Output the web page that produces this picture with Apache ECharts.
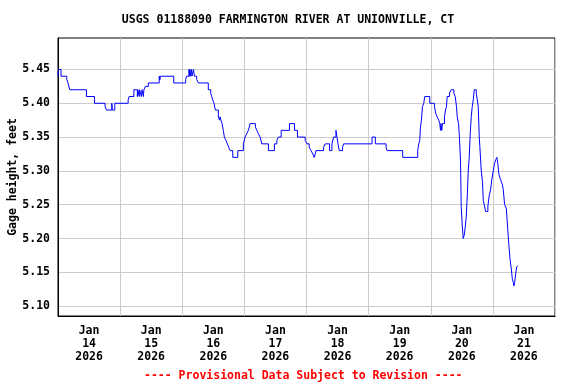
<!DOCTYPE html>
<html>
<head>
<meta charset="utf-8">
<script src="https://cdn.jsdelivr.net/npm/echarts@6/dist/echarts.min.js"></script>
<style>
html,body{margin:0;padding:0;background:#fff;}
#chart{width:576px;height:384px;}
</style>
</head>
<body>
<div id="chart"></div>
<script>
// Hours since Jan 14 2026 00:00 at which the gage reading changes
const hours = [0,0.15,1.16,3.37,3.87,4.53,10.99,14.09,18.19,18.74,20.79,20.98,21.95,27.10,27.48,29.30,30.66,30.85,31.36,31.55,32.21,32.48,32.98,33.18,33.76,34.92,39.10,39.37,39.56,44.71,49.32,49.63,50.59,50.79,50.98,51.17,51.56,51.76,52.34,52.72,53.58,54.27,58.06,58.99,59.38,59.77,60.27,60.78,61.94,62.40,62.60,62.98,63.37,63.87,64.26,64.92,65.42,65.96,66.47,67.51,69.45,71.61,72.27,72.93,73.55,74.21,76.26,76.80,77.42,78.08,78.74,81.29,83.61,84.54,85.16,86.21,89.42,91.36,92.52,95.50,96.16,97.05,97.71,98.48,98.98,99.37,99.64,102.58,103.24,104.91,105.83,106.45,107.38,107.77,108.16,108.66,109.94,110.33,121.32,122.60,126.74,127.13,133.16,138.97,139.36,139.75,140.02,140.40,140.79,141.29,141.68,143.62,145.43,145.94,146.48,147.10,147.49,147.76,147.95,148.26,148.53,149.31,149.69,150.08,150.35,151.24,151.90,152.91,153.45,153.95,154.23,154.73,155.00,155.50,155.77,156.16,156.54,156.93,157.32,157.71,158.09,158.48,158.87,159.25,159.64,160.03,160.42,160.80,161.58,161.97,162.35,162.74,162.97,163.51,164.01,164.29,164.79,165.18,166.07,166.61,167.11,167.62,168.16,168.66,169.16,169.55,169.94,170.33,170.98,171.64,172.03,172.53,173.19,173.58,174.09,174.59,175.13,175.52,175.91,176.14,176.41,176.85,177.21,177.71];
// Gage height (feet) from each of those times
const gage = [5.44,5.45,5.44,5.435,5.43,5.42,5.41,5.40,5.395,5.39,5.40,5.39,5.40,5.405,5.41,5.42,5.41,5.42,5.41,5.42,5.41,5.42,5.41,5.42,5.425,5.43,5.44,5.435,5.44,5.43,5.435,5.44,5.45,5.44,5.45,5.44,5.45,5.44,5.45,5.44,5.435,5.43,5.42,5.415,5.41,5.405,5.40,5.39,5.38,5.375,5.38,5.375,5.37,5.36,5.35,5.345,5.34,5.335,5.33,5.32,5.33,5.34,5.35,5.355,5.36,5.37,5.365,5.36,5.355,5.35,5.34,5.33,5.34,5.345,5.35,5.36,5.37,5.36,5.35,5.345,5.34,5.335,5.33,5.325,5.32,5.325,5.33,5.335,5.34,5.33,5.34,5.35,5.36,5.35,5.34,5.33,5.335,5.34,5.35,5.34,5.335,5.33,5.32,5.33,5.34,5.345,5.365,5.375,5.395,5.40,5.41,5.40,5.395,5.385,5.38,5.375,5.37,5.36,5.37,5.36,5.37,5.38,5.39,5.395,5.41,5.415,5.42,5.415,5.41,5.395,5.38,5.37,5.355,5.316,5.247,5.22,5.20,5.205,5.217,5.232,5.262,5.30,5.32,5.355,5.38,5.395,5.405,5.42,5.415,5.405,5.395,5.35,5.336,5.30,5.283,5.256,5.248,5.24,5.248,5.264,5.272,5.288,5.30,5.311,5.317,5.32,5.31,5.295,5.287,5.28,5.272,5.25,5.245,5.223,5.195,5.171,5.155,5.14,5.135,5.13,5.135,5.149,5.158,5.16];
const yTicks = [5.10, 5.15, 5.20, 5.25, 5.30, 5.35, 5.40, 5.45];
const dayLabels = ['14', '15', '16', '17', '18', '19', '20', '21'];
const monthLabel = 'Jan';
const yearLabel = '2026';
const titleText = 'USGS 01188090 FARMINGTON RIVER AT UNIONVILLE, CT';
const yName = 'Gage height, feet';
const footText = '---- Provisional Data Subject to Revision ----';

// step-shaped line (each reading holds until the next one)
const pts = [];
for (let i = 0; i < hours.length; i++) {
  if (i > 0) pts.push([hours[i], gage[i - 1]]);
  pts.push([hours[i], gage[i]]);
}

const FONT = 'DejaVu Sans Mono';
const chart = echarts.init(document.getElementById('chart'), null, {renderer: 'canvas'});
chart.setOption({
  animation: false,
  backgroundColor: '#ffffff',
  grid: {left: 58, top: 38, right: 21, bottom: 68, containLabel: false, outerBoundsMode: 'none',
    show: true, borderColor: '#000', borderWidth: 1, backgroundColor: 'transparent'},
  xAxis: [{
    type: 'value', min: 0, max: 192, interval: 12,
    axisLine: {show: true, lineStyle: {color: '#000', width: 1}},
    axisTick: {show: false},
    splitLine: {show: false},
    axisLabel: {
      margin: 9, fontFamily: FONT, fontWeight: 'bold', fontSize: 11.5, color: '#000', lineHeight: 13,
      showMinLabel: true, showMaxLabel: true,
      formatter: function (v) {
        if (Math.round(v) % 24 !== 12) return '';
        const idx = Math.round((v - 12) / 24);
        return monthLabel + '\n' + dayLabels[idx] + '\n' + yearLabel;
      }
    }
  }, {
    type: 'value', min: 0, max: 192, interval: 24, position: 'bottom',
    axisLine: {show: false}, axisTick: {show: false}, axisLabel: {show: false},
    splitLine: {show: true, lineStyle: {color: '#cccccc', width: 1}}
  }],
  yAxis: {
    type: 'value', min: 5.0855, max: 5.4965,
    name: yName, nameLocation: 'middle', nameGap: 39, nameRotate: 90, nameMoveOverlap: false,
    nameTextStyle: {fontFamily: FONT, fontWeight: 'bold', fontSize: 11.5, color: '#000'},
    axisLine: {show: true, lineStyle: {color: '#000', width: 1}},
    axisTick: {show: false, customValues: yTicks},
    axisLabel: {
      customValues: yTicks, margin: 8, fontFamily: FONT, fontWeight: 'bold', fontSize: 11.5, color: '#000',
      formatter: function (v) { return v.toFixed(2); }
    },
    splitLine: {show: true, lineStyle: {color: '#cccccc', width: 1}}
  },
  graphic: [
    {type: 'text', left: 'center', top: 14, style: {text: titleText, font: 'bold 11.5px "DejaVu Sans Mono"', fill: '#000'}, z: 10},
    {type: 'text', left: 144, top: 370, style: {text: footText, font: 'bold 11.5px "DejaVu Sans Mono"', fill: '#ff0000'}, z: 10}
  ],
  series: [{
    type: 'line', xAxisIndex: 0, data: pts, showSymbol: false, symbol: 'none',
    lineStyle: {color: '#0000ff', width: 1}, silent: true, clip: true
  }]
});
</script>
</body>
</html>
